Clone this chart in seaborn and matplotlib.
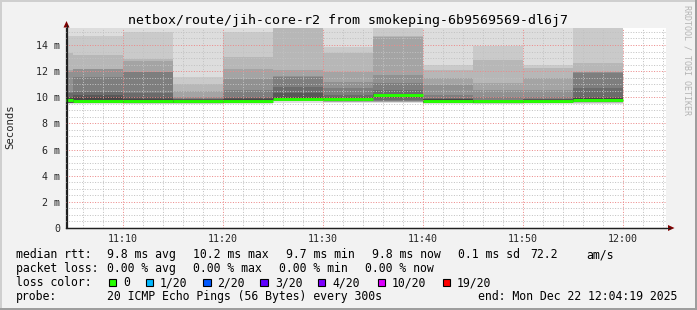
import numpy as np
import pandas as pd
import matplotlib
matplotlib.use("Agg")
import matplotlib.pyplot as plt
import seaborn as sns
from matplotlib.patches import Polygon, Rectangle
from matplotlib.lines import Line2D

# ---------------- data ----------------
TITLE = "netbox/route/jih-core-r2 from smokeping-6b9569569-dl6j7"
window_start_min = 4 + 19 / 60.0   # 11:04:19, minutes after 11:00
window_end_min = 64 + 19 / 60.0    # 12:04:19

seg_start_min = [0, 5, 10, 15, 20, 25, 30, 35, 40, 45, 50, 55]
seg_end_min = [5, 10, 15, 20, 25, 30, 35, 40, 45, 50, 55, 60]
median_ms = [9.78, 9.72, 9.68, 9.68, 9.74, 9.90, 9.85, 10.18, 9.72, 9.68, 9.75, 9.80]

# 20 sorted ping rtts (ms) per 5-minute step
pings_ms = [
    [9.50, 9.56, 9.57, 9.58, 9.58, 9.59, 9.59, 9.60, 9.68, 9.75, 9.80, 9.95, 10.00, 10.30, 10.40, 11.90, 12.10, 13.40, 14.70, 16.00],
    [9.50, 9.56, 9.57, 9.57, 9.58, 9.58, 9.59, 9.59, 9.62, 9.70, 9.74, 10.00, 10.20, 10.40, 11.55, 12.15, 12.20, 13.20, 14.70, 16.00],
    [9.45, 9.52, 9.54, 9.55, 9.55, 9.56, 9.56, 9.57, 9.58, 9.66, 9.70, 9.90, 10.00, 10.30, 11.90, 11.95, 12.80, 12.90, 15.00, 16.50],
    [9.45, 9.52, 9.54, 9.55, 9.55, 9.56, 9.56, 9.57, 9.58, 9.66, 9.70, 9.75, 9.85, 9.90, 9.95, 10.00, 10.50, 11.00, 11.55, 16.00],
    [9.50, 9.56, 9.57, 9.58, 9.58, 9.59, 9.59, 9.60, 9.64, 9.72, 9.76, 9.90, 9.95, 10.05, 10.55, 11.40, 12.20, 13.10, 15.00, 16.00],
    [9.60, 9.70, 9.72, 9.73, 9.74, 9.75, 9.76, 9.77, 9.80, 9.87, 9.95, 10.05, 10.30, 10.80, 11.55, 11.60, 12.10, 15.90, 16.50, 17.00],
    [9.55, 9.64, 9.66, 9.67, 9.68, 9.69, 9.70, 9.71, 9.75, 9.83, 9.90, 9.95, 10.00, 10.20, 10.70, 11.20, 11.95, 13.40, 13.85, 16.00],
    [9.55, 9.62, 9.64, 9.66, 9.68, 9.70, 9.80, 9.95, 10.05, 10.15, 10.20, 10.22, 10.25, 10.55, 11.10, 11.70, 14.60, 14.65, 16.50, 17.00],
    [9.50, 9.56, 9.57, 9.58, 9.58, 9.59, 9.59, 9.60, 9.64, 9.70, 9.80, 9.85, 9.90, 9.95, 10.20, 10.95, 11.50, 12.10, 12.50, 16.00],
    [9.45, 9.52, 9.54, 9.55, 9.55, 9.56, 9.56, 9.57, 9.58, 9.66, 9.70, 9.74, 9.78, 9.82, 10.05, 10.55, 11.10, 12.85, 13.90, 16.00],
    [9.50, 9.54, 9.55, 9.55, 9.56, 9.56, 9.57, 9.57, 9.62, 9.72, 9.78, 9.82, 9.85, 9.90, 10.05, 10.55, 11.50, 12.25, 12.50, 16.00],
    [9.50, 9.58, 9.60, 9.61, 9.62, 9.63, 9.64, 9.65, 9.70, 9.78, 9.82, 9.95, 10.00, 10.70, 11.85, 11.90, 11.95, 12.60, 15.50, 16.00],
]

x_tick_min = [10, 20, 30, 40, 50, 60]
x_tick_labels = ["11:10", "11:20", "11:30", "11:40", "11:50", "12:00"]
y_ticks_ms = [0, 2, 4, 6, 8, 10, 12, 14]
y_tick_labels = ["0", "2 m", "4 m", "6 m", "8 m", "10 m", "12 m", "14 m"]

loss_labels = ["0", "1/20", "2/20", "3/20", "4/20", "10/20", "19/20"]
loss_colors = ["#26ff00", "#00b8ff", "#0059ff", "#5e00ff", "#7e00ff", "#dd00ff", "#ff0000"]

# ---------------- figure ----------------
W, H = 697, 310
sns.set_style("white")
plt.rcParams["font.family"] = ["DejaVu Sans Mono"]
MONO = "DejaVu Sans Mono"

def fx(x):
    return x / W

def fy(y):
    return 1 - y / H

fig = plt.figure(figsize=(W / 100, H / 100), dpi=100, facecolor="#f2f2f2")
ax = fig.add_axes([fx(66), fy(228), 600 / W, 200 / H])
ax.set_facecolor("white")

# smoke bands
npings = 20
half = npings // 2
for k in range(half):
    c = int(190 / half * (half - (k + 1))) + 50
    col = "#%02x%02x%02x" % (c, c, c)
    for s, e, p in zip(seg_start_min, seg_end_min, pings_ms):
        ax.fill_between([max(s, window_start_min), e], [p[k]] * 2, [p[npings - 1 - k]] * 2,
                        color=col, lw=0, antialiased=False, zorder=1)

# median line
rows = []
for i, (s, e, m) in enumerate(zip(seg_start_min, seg_end_min, median_ms)):
    rows.append({"t": max(s, window_start_min), "ms": m, "seg": i})
    rows.append({"t": e, "ms": m, "seg": i})
df = pd.DataFrame(rows)
sns.lineplot(data=df, x="t", y="ms", units="seg", estimator=None, color=loss_colors[0],
             lw=2.1, legend=False, ax=ax, zorder=4, solid_capstyle="butt")

ax.set_xlim(window_start_min, window_end_min)
ax.set_ylim(0, 15.3)
ax.set_xlabel("")
ax.set_ylabel("")

ax.set_xticks(x_tick_min)
ax.set_xticklabels(x_tick_labels, fontsize=7.2, family=MONO)
ax.set_xticks(np.arange(6, 65, 2), minor=True)
ax.set_yticks(y_ticks_ms)
ax.set_yticklabels(y_tick_labels, fontsize=7.2, family=MONO)
ax.set_yticks(np.arange(0, 15.3, 0.5), minor=True)

ax.set_axisbelow(False)
ax.grid(which="minor", color="#c2c2c2", lw=0.72, ls=(0, (1, 1.6)))
ax.grid(which="major", color="#ec8a8a", lw=0.72, ls=(0, (1, 1.6)))

ax.tick_params(axis="y", which="major", direction="out", length=3, width=0.7, pad=1.3, color="#202020")
ax.tick_params(axis="y", which="minor", direction="out", length=1.5, width=0.5, color="#808080")
ax.tick_params(axis="x", which="major", direction="out", length=2, width=0.7, pad=2.3, color="#e08080")
ax.tick_params(axis="x", which="minor", direction="out", length=1.5, width=0.5, color="#a0a0a0")

for sp in ["top", "right"]:
    ax.spines[sp].set_visible(False)
for sp in ["left", "bottom"]:
    ax.spines[sp].set_color("#202020")
    ax.spines[sp].set_linewidth(0.9)

# axis extensions and arrows
fig.add_artist(Line2D([fx(66.5), fx(66.5)], [fy(228), fy(25)], color="#202020", lw=0.9))
fig.add_artist(Line2D([fx(66), fx(670)], [fy(228), fy(228)], color="#202020", lw=0.9))
fig.add_artist(Polygon([(fx(63.5), fy(27.5)), (fx(69.5), fy(27.5)), (fx(66.5), fy(21))],
                       closed=True, color="#800000", lw=0))
fig.add_artist(Polygon([(fx(668), fy(225)), (fx(668), fy(231)), (fx(674.5), fy(228))],
                       closed=True, color="#800000", lw=0))

# title and labels
fig.text(fx(348), fy(24), TITLE, ha="center", va="baseline", fontsize=9.5, family=MONO, color="black")
fig.text(fx(10.5), fy(127), "Seconds", rotation=90, ha="center", va="center", fontsize=7.7, family=MONO)
fig.text(fx(687.5), fy(5), "RRDTOOL / TOBI OETIKER", rotation=270, ha="center", va="top",
         fontsize=6, family=MONO, color="#b4b4b4")

# legend rows
LF = 8.3
def lt(x, y, s):
    fig.text(fx(x), fy(y), s, ha="left", va="baseline", fontsize=LF, family=MONO, color="black")

r1, r2, r3, r4 = 258.3, 272.3, 286.2, 300.2
lt(16, r1, "median rtt:")
lt(107, r1, "9.8 ms avg")
lt(193, r1, "10.2 ms max")
lt(286, r1, "9.7 ms min")
lt(372, r1, "9.8 ms now")
lt(458, r1, "0.1 ms sd")
lt(530, r1, "72.2")
lt(586, r1, "am/s")

lt(16, r2, "packet loss:")
lt(107, r2, "0.00 % avg")
lt(193, r2, "0.00 % max")
lt(279, r2, "0.00 % min")
lt(365, r2, "0.00 % now")

lt(16, r3, "loss color:")
box_x = [108.7, 145.7, 203, 260.3, 317.7, 377.7, 442.5]
text_x = [123, 160, 217, 275, 332, 392, 457]
for bx, tx, lab, col in zip(box_x, text_x, loss_labels, loss_colors):
    fig.add_artist(Rectangle((fx(bx), fy(286)), 7.5 / W, 7.5 / H, facecolor=col,
                             edgecolor="black", lw=0.8, transform=fig.transFigure))
    lt(tx, r3, lab)

lt(16, r4, "probe:")
lt(107, r4, "20 ICMP Echo Pings (56 Bytes) every 300s")
lt(478, r4, "end: Mon Dec 22 12:04:19 2025")

# frame shading
fig.add_artist(Rectangle((0, fy(2)), 1, 2 / H, color="#cfcfcf", lw=0, transform=fig.transFigure))
fig.add_artist(Rectangle((0, 0), 2 / W, 1, color="#cfcfcf", lw=0, transform=fig.transFigure))
fig.add_artist(Rectangle((0, 0), 1, 2.5 / H, color="#9e9e9e", lw=0, transform=fig.transFigure))
fig.add_artist(Rectangle((fx(695), 0), 2 / W, 1, color="#9e9e9e", lw=0, transform=fig.transFigure))

fig.savefig("out.png", dpi=100, facecolor=fig.get_facecolor())
